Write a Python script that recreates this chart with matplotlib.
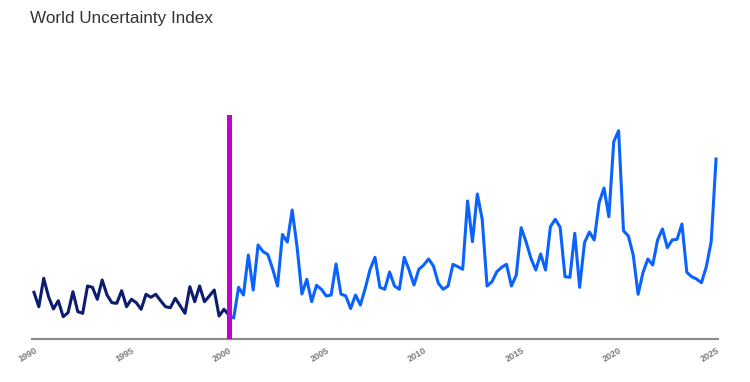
import matplotlib
matplotlib.use("Agg")
import matplotlib.pyplot as plt
import numpy as np

# Quarterly index values (arbitrary units), 1990Q1 .. 2025Q1
title = "World Uncertainty Index"
start_year = 1990
tick_years = [1990, 1995, 2000, 2005, 2010, 2015, 2020, 2025]
split_year = 2000

# 1990Q1 .. 2000Q1 (dark segment)
values_before = [46.7, 32.3, 60.7, 42.3, 30.0, 38.3, 22.3, 26.3, 47.3, 27.3,
                 25.7, 53.0, 51.7, 39.7, 59.0, 44.0, 36.3, 35.7, 48.3, 32.3,
                 39.7, 36.3, 29.7, 44.7, 41.7, 44.7, 38.3, 32.3, 31.3, 40.7,
                 33.3, 25.7, 52.3, 37.3, 53.0, 37.3, 43.0, 49.0, 23.0, 29.7,
                 24.0]
# 2000Q1 .. 2025Q1 (blue segment)
values_after = [24.0, 21.0, 51.7, 44.0, 84.0, 49.0, 94.0, 87.5, 84.5, 70.0,
                53.0, 104.5, 97.0, 129.0, 92.3, 45.0, 59.7, 37.3, 53.7, 49.7,
                43.0, 44.0, 75.0, 45.0, 43.0, 30.5, 44.0, 34.0, 50.7, 69.7,
                81.7, 51.7, 49.7, 67.0, 53.0, 49.7, 81.7, 69.0, 54.0, 69.7,
                74.0, 80.0, 73.0, 55.7, 49.7, 53.0, 74.7, 72.3, 69.7, 138.0,
                97.3, 145.0, 119.7, 53.0, 57.3, 67.3, 71.7, 74.7, 53.0, 64.0,
                111.3, 97.3, 80.7, 69.0, 85.0, 69.0, 112.3, 119.7, 111.7, 62.3,
                61.7, 105.7, 51.7, 96.3, 107.0, 99.0, 136.3, 151.0, 122.3, 197.3,
                208.3, 108.3, 103.0, 84.0, 44.7, 66.3, 80.0, 74.0, 99.0, 110.0,
                91.3, 99.0, 99.7, 115.0, 66.7, 62.3, 60.0, 56.3, 72.3, 97.3,
                180.0]

n_before = len(values_before)
x_before = start_year + np.arange(n_before) / 4.0
x_after = start_year + (n_before - 1 + np.arange(len(values_after))) / 4.0

plt.rcParams['font.family'] = ['Liberation Sans', 'DejaVu Sans']

fig = plt.figure(figsize=(7.5, 3.82), dpi=100)
ax = fig.add_axes([32/750, 1 - 339/382, (718 - 32)/750, (339 - 115)/382])

ax.plot(x_before, values_before, color='#0c1c6e', lw=2.2, solid_joinstyle='round', zorder=3)
ax.plot(x_after, values_after, color='#0a62ff', lw=2.2, solid_joinstyle='round', zorder=3)
ax.axvline(split_year, color='#c400d0', lw=3.6, zorder=4)

ax.set_xlim(1989.9, 2025.1)
ax.set_ylim(0, 224)

for s in ['top', 'right', 'left']:
    ax.spines[s].set_visible(False)
ax.spines['bottom'].set_color('#8a8a8a')
ax.spines['bottom'].set_linewidth(1.5)
ax.set_yticks([])
ax.set_xticks(tick_years)
ax.set_xticklabels([str(y) for y in tick_years], rotation=30, ha='right',
                   rotation_mode='anchor', fontsize=6.5, color='#7a7a7a',
                   fontweight='bold')
ax.tick_params(axis='x', length=0, pad=5)

fig.text(30/750, 1 - 18/382, title, fontsize=12.3, color='#333333', va='center', ha='left')

fig.savefig('out.png', dpi=100, facecolor='white')
